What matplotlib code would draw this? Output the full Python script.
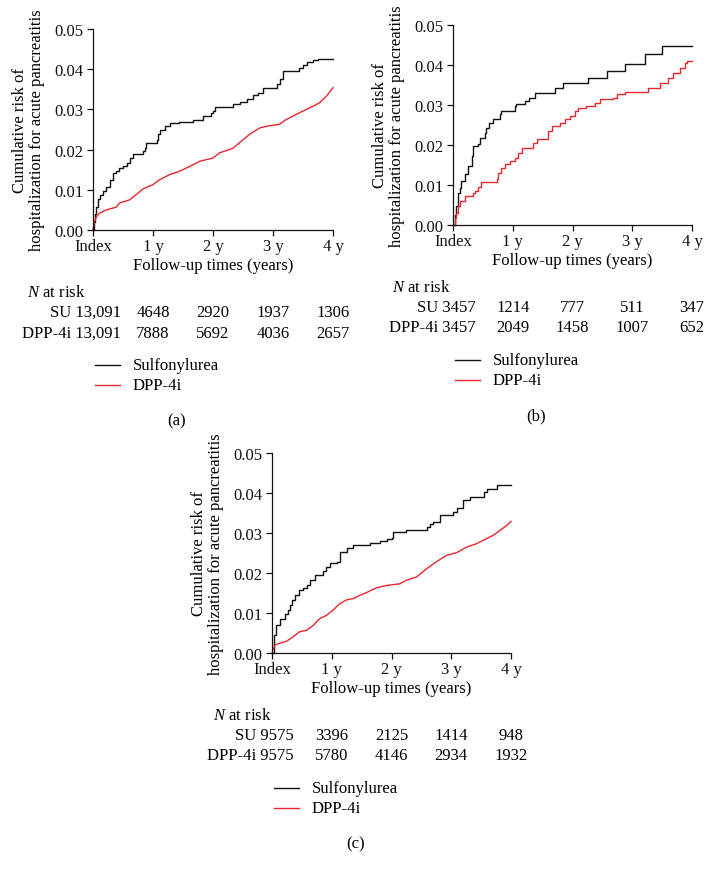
import matplotlib
matplotlib.use("Agg")
import matplotlib.pyplot as plt
from matplotlib.lines import Line2D
from matplotlib.transforms import blended_transform_factory

plt.rcParams['font.family'] = ['Liberation Serif', 'DejaVu Serif']
plt.rcParams['mathtext.fontset'] = 'custom'
plt.rcParams['mathtext.it'] = 'Liberation Serif:italic'
plt.rcParams['mathtext.rm'] = 'Liberation Serif'

# ---------------- data ----------------
x_ticks = [0, 1, 2, 3, 4]
x_tick_labels = ["Index", "1 y", "2 y", "3 y", "4 y"]
y_ticks = [0.00, 0.01, 0.02, 0.03, 0.04, 0.05]
y_tick_labels = ["0.00", "0.01", "0.02", "0.03", "0.04", "0.05"]

series_names = ["Sulfonylurea", "DPP-4i"]
row_names = ["SU", "DPP-4i"]
panel_labels = ["(a)", "(b)", "(c)"]

# Panel (a)
a_su_t = [0, 0.01, 0.03, 0.056, 0.08, 0.11, 0.17, 0.22, 0.28, 0.33, 0.39, 0.44, 0.5, 0.56, 0.61, 0.67,
          0.83, 0.86, 0.89, 1.06, 1.08, 1.11, 1.2, 1.28, 1.44, 1.67, 1.83, 1.97, 2.0, 2.03, 2.06, 2.33,
          2.45, 2.56, 2.67, 2.75, 2.83, 3.06, 3.11, 3.17, 3.44, 3.5, 3.56, 3.67, 3.75, 4.0]
a_su_v = [0, 0.002, 0.004, 0.0058, 0.0078, 0.0088, 0.0098, 0.0108, 0.0125, 0.0142, 0.0148, 0.0154,
          0.016, 0.0167, 0.018, 0.019, 0.0196, 0.0205, 0.0217, 0.0225, 0.0238, 0.025, 0.0258, 0.0265,
          0.0268, 0.0273, 0.0283, 0.0292, 0.0295, 0.0305, 0.0307, 0.0313, 0.0318, 0.0325, 0.0335, 0.0342,
          0.0352, 0.0363, 0.0375, 0.0396, 0.0404, 0.041, 0.0417, 0.0423, 0.0425, 0.0425]
a_dpp_t = [0, 0.02, 0.056, 0.11, 0.22, 0.39, 0.44, 0.61, 0.72, 0.83, 1.0, 1.11, 1.28, 1.44, 1.61, 1.78,
           2.0, 2.11, 2.33, 2.44, 2.61, 2.78, 2.89, 3.11, 3.22, 3.33, 3.5, 3.67, 3.78, 3.89, 4.0]
a_dpp_v = [0, 0.0018, 0.0033, 0.0042, 0.005, 0.0057, 0.0067, 0.0075, 0.0088, 0.0102, 0.0113, 0.0125,
           0.0138, 0.0146, 0.0158, 0.0171, 0.0179, 0.0192, 0.0203, 0.0217, 0.0238, 0.0254, 0.0258, 0.0263,
           0.0275, 0.0283, 0.0296, 0.0308, 0.0317, 0.0333, 0.0354]
a_su_risk = ["13,091", "4648", "2920", "1937", "1306"]
a_dpp_risk = ["13,091", "7888", "5692", "4036", "2657"]

# Panel (b)
b_su_t = [0, 0.03, 0.056, 0.08, 0.11, 0.14, 0.2, 0.25, 0.31, 0.34, 0.42, 0.45, 0.53, 0.56, 0.61, 0.67,
          0.78, 0.81, 1.03, 1.06, 1.2, 1.28, 1.37, 1.7, 1.84, 2.26, 2.57, 2.88, 3.21, 3.49, 4.0]
b_su_v = [0, 0.0025, 0.0048, 0.0081, 0.0093, 0.011, 0.0127, 0.0148, 0.0173, 0.0198, 0.0202, 0.0218,
          0.0231, 0.0243, 0.0256, 0.0264, 0.0277, 0.0285, 0.0298, 0.0303, 0.031, 0.0318, 0.0331, 0.0343,
          0.0356, 0.0368, 0.0385, 0.0403, 0.0427, 0.0448, 0.0448]
b_dpp_t = [0, 0.03, 0.056, 0.08, 0.11, 0.2, 0.34, 0.37, 0.42, 0.47, 0.73, 0.75, 0.81, 0.87, 0.95, 1.03,
           1.09, 1.15, 1.34, 1.4, 1.59, 1.65, 1.79, 1.87, 1.96, 2.04, 2.09, 2.23, 2.37, 2.46, 2.68, 2.74,
           2.88, 3.27, 3.46, 3.6, 3.69, 3.8, 3.88, 3.91, 4.0]
b_dpp_v = [0, 0.0018, 0.0031, 0.0048, 0.006, 0.0072, 0.0081, 0.0085, 0.0095, 0.0108, 0.0114, 0.0131,
           0.0143, 0.0152, 0.016, 0.0168, 0.0181, 0.0193, 0.0206, 0.0214, 0.0235, 0.0248, 0.0256, 0.0264,
           0.0273, 0.0285, 0.0293, 0.0298, 0.0306, 0.0314, 0.0318, 0.0327, 0.0333, 0.0343, 0.0356, 0.0368,
           0.0381, 0.0393, 0.0406, 0.041, 0.041]
b_su_risk = ["3457", "1214", "777", "511", "347"]
b_dpp_risk = ["3457", "2049", "1458", "1007", "652"]

# Panel (c)
c_su_t = [0, 0.03, 0.07, 0.13, 0.21, 0.26, 0.3, 0.34, 0.38, 0.46, 0.52, 0.58, 0.63, 0.72, 0.85, 0.91,
          0.97, 1.08, 1.13, 1.25, 1.36, 1.58, 1.64, 1.8, 1.92, 2.0, 2.03, 2.25, 2.59, 2.65, 2.7, 2.81,
          3.03, 3.09, 3.2, 3.31, 3.54, 3.59, 3.76, 4.0]
c_su_v = [0, 0.0044, 0.0069, 0.0086, 0.0098, 0.0108, 0.0119, 0.0132, 0.0144, 0.0157, 0.0163, 0.0169,
          0.0182, 0.0194, 0.0204, 0.0215, 0.0226, 0.0228, 0.0253, 0.0263, 0.0269, 0.0271, 0.0276, 0.0279,
          0.0286, 0.0288, 0.0303, 0.0307, 0.0315, 0.0322, 0.0328, 0.0344, 0.0353, 0.0363, 0.0382, 0.039,
          0.0403, 0.0411, 0.0419, 0.0419]
c_dpp_t = [0, 0.045, 0.1, 0.24, 0.35, 0.46, 0.58, 0.69, 0.8, 0.91, 1.02, 1.13, 1.25, 1.36, 1.47, 1.58,
           1.75, 1.92, 2.14, 2.25, 2.42, 2.59, 2.75, 2.92, 3.09, 3.26, 3.42, 3.59, 3.7, 3.82, 3.93, 4.0]
c_dpp_v = [0, 0.0019, 0.0023, 0.0029, 0.004, 0.0053, 0.0057, 0.0069, 0.0086, 0.0094, 0.0107, 0.0123,
           0.0133, 0.0136, 0.0144, 0.0151, 0.0163, 0.0169, 0.0173, 0.0182, 0.019, 0.0211, 0.0228, 0.0244,
           0.0251, 0.0265, 0.0273, 0.0286, 0.0294, 0.0307, 0.0319, 0.0329]
c_su_risk = ["9575", "3396", "2125", "1414", "948"]
c_dpp_risk = ["9575", "5780", "4146", "2934", "1932"]

# ---------------- layout ----------------
W, H = 715, 879
FS = 12
BLACK = "#111111"
RED = "#e8262e"

fig = plt.figure(figsize=(W / 100, H / 100), dpi=100)

panels = [
    dict(box=(93, 30, 333, 231), su=(a_su_t, a_su_v), dpp=(a_dpp_t, a_dpp_v), steps=("post", None),
         risk=(a_su_risk, a_dpp_risk), label=panel_labels[0], row_right=28, n_left=-66),
    dict(box=(453, 26, 692, 226), su=(b_su_t, b_su_v), dpp=(b_dpp_t, b_dpp_v), steps=("post", "post"),
         risk=(b_su_risk, b_dpp_risk), label=panel_labels[1], row_right=23, n_left=-61),
    dict(box=(272, 454, 511, 654), su=(c_su_t, c_su_v), dpp=(c_dpp_t, c_dpp_v), steps=("post", None),
         risk=(c_su_risk, c_dpp_risk), label=panel_labels[2], row_right=22, n_left=-59),
]

for p in panels:
    l, t, r, b = p["box"]
    ax = fig.add_axes([l / W, 1 - b / H, (r - l) / W, (b - t) / H])
    ax_w = r - l
    ax_h = b - t
    px_per_yr = ax_w / 4.0

    for (tt, vv), col, st in zip([p["su"], p["dpp"]], [BLACK, RED], p["steps"]):
        if st:
            ax.step(tt, vv, where=st, color=col, lw=1.0, clip_on=False)
        else:
            ax.plot(tt, vv, color=col, lw=1.0, clip_on=False)

    ax.set_xlim(0, 4)
    ax.set_ylim(0, 0.05)
    ax.set_xticks(x_ticks)
    ax.set_xticklabels(x_tick_labels)
    ax.set_yticks(y_ticks)
    ax.set_yticklabels(y_tick_labels)
    for s in ["top", "right"]:
        ax.spines[s].set_visible(False)
    for s in ["left", "bottom"]:
        ax.spines[s].set_linewidth(0.9)
        ax.spines[s].set_color(BLACK)
    ax.tick_params(axis="both", direction="out", length=4, width=0.9, labelsize=FS,
                   colors=BLACK, pad=3)
    ax.tick_params(axis="x", pad=2)
    ax.set_xlabel("Follow-up times (years)", fontsize=FS, labelpad=2)
    ax.set_ylabel("Cumulative risk of\nhospitalization for acute pancreatitis",
                  fontsize=FS, linespacing=1.1)
    ax.yaxis.set_label_coords(-48 / ax_w, 0.5)

    tr = blended_transform_factory(ax.transData, ax.transAxes)

    def ypos(px):
        return -px / ax_h

    # N at risk table
    ax.text(p["n_left"] / px_per_yr, ypos(62), r"$\it{N}$ at risk", transform=tr,
            ha="left", va="center", fontsize=FS)
    for k, (name, vals) in enumerate(zip(row_names, p["risk"])):
        yy = ypos(82 + 20.5 * k)
        ax.text(p["row_right"] / px_per_yr, yy, f"{name} {vals[0]}", transform=tr,
                ha="right", va="center", fontsize=FS)
        for xi, v in zip(x_ticks[1:], vals[1:]):
            ax.text(xi, yy, v, transform=tr, ha="center", va="center", fontsize=FS)

    # legend
    for k, (name, col) in enumerate(zip(series_names, [BLACK, RED])):
        yy = ypos(135 + 20 * k)
        ax.add_line(Line2D([2 / px_per_yr, 27 / px_per_yr], [yy, yy], transform=tr,
                           color=col, lw=1.0, clip_on=False))
        ax.text(40 / px_per_yr, yy, name, transform=tr, ha="left", va="center", fontsize=FS)

    # panel label
    ax.text(2 - 36 / px_per_yr, ypos(190), p["label"], transform=tr,
            ha="center", va="center", fontsize=FS)

fig.savefig("out.png", dpi=100)
